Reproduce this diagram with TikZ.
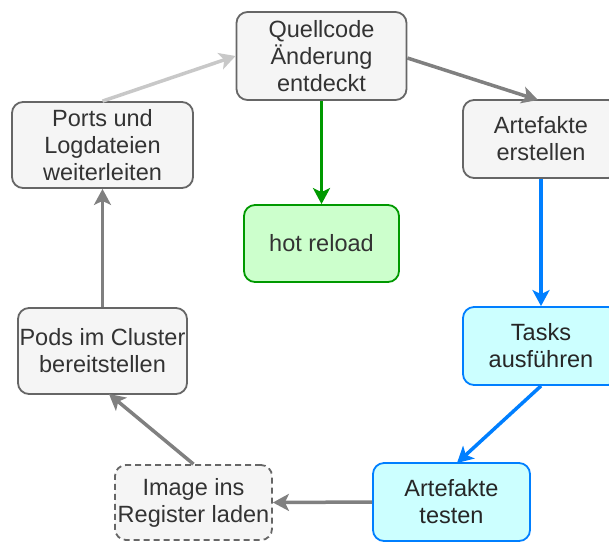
\documentclass[tikz,border=0pt]{standalone}
\usepackage{fontspec}
\setmainfont{Liberation Sans}
\usetikzlibrary{arrows.meta}

\definecolor{boxgray}{HTML}{F5F5F5}
\definecolor{edgegray}{HTML}{666666}
\definecolor{txtgray}{HTML}{333333}
\definecolor{boxgreen}{HTML}{CCFFCC}
\definecolor{edgegreen}{HTML}{009900}
\definecolor{boxblue}{HTML}{CCFFFF}
\definecolor{edgeblue}{HTML}{007FFF}
\definecolor{arrgray}{HTML}{808080}
\definecolor{arrlight}{HTML}{C8C8C8}

\tikzset{
  x=1pt, y=-1pt,
  stepbox/.style={draw=edgegray, fill=boxgray, line width=1.8pt, rounded corners=11pt,
    inner sep=0pt, align=center, text=txtgray,
    font=\fontsize{23.5}{27}\selectfont},
  greenbox/.style={stepbox, draw=edgegreen, fill=boxgreen},
  bluebox/.style={stepbox, draw=edgeblue, fill=boxblue, text=black!85},
  dashbox/.style={stepbox, dash pattern=on 6pt off 4pt},
  flow/.style={line width=3.5pt, draw=arrgray,
    -{Stealth[length=16pt, width=17pt, inset=4pt]}},
}

\begin{document}
\begin{tikzpicture}
\useasboundingbox (0,0) rectangle (609,542);

% process steps
\node[stepbox, minimum width=170pt, minimum height=88pt] (src) at (321.5,56) {Quellcode\\Änderung\\entdeckt};
\node[stepbox, minimum width=156pt, minimum height=78pt] (build) at (541,139) {Artefakte\\erstellen};
\node[greenbox, minimum width=155pt, minimum height=77pt] (hot) at (321.5,243.5) {hot reload};
\node[stepbox, minimum width=181pt, minimum height=86pt] (ports) at (102.5,145) {Ports und\\Logdateien\\weiterleiten};
\node[stepbox, minimum width=169pt, minimum height=86pt] (pods) at (102.5,351) {Pods im Cluster\\bereitstellen};
\node[bluebox, minimum width=156pt, minimum height=78pt] (tasks) at (541,346) {Tasks\\ausführen};
\node[dashbox, minimum width=157pt, minimum height=75pt] (img) at (193.5,502.5) {Image ins\\Register laden};
\node[bluebox, minimum width=157pt, minimum height=78pt] (test) at (451.5,502) {Artefakte\\testen};

% anchor points on the box edges
\coordinate (buildin) at (538,100);
\coordinate (testin) at (457,463);
\coordinate (podsin) at (109,394);

% connectors
\draw[flow, draw=arrlight] (ports.north) -- (src.west);
\draw[flow] (src.east) ++(0,2) -- (buildin);
\draw[flow, draw=edgegreen] (src.south) -- (hot.north);
\draw[flow, draw=edgeblue] (build.south) -- (tasks.north);
\draw[flow, draw=edgeblue] (tasks.south) -- (testin);
\draw[flow] (test.west) -- (img.east);
\draw[flow] (img.north) -- (podsin);
\draw[flow] (pods.north) -- (ports.south);
\end{tikzpicture}
\end{document}
